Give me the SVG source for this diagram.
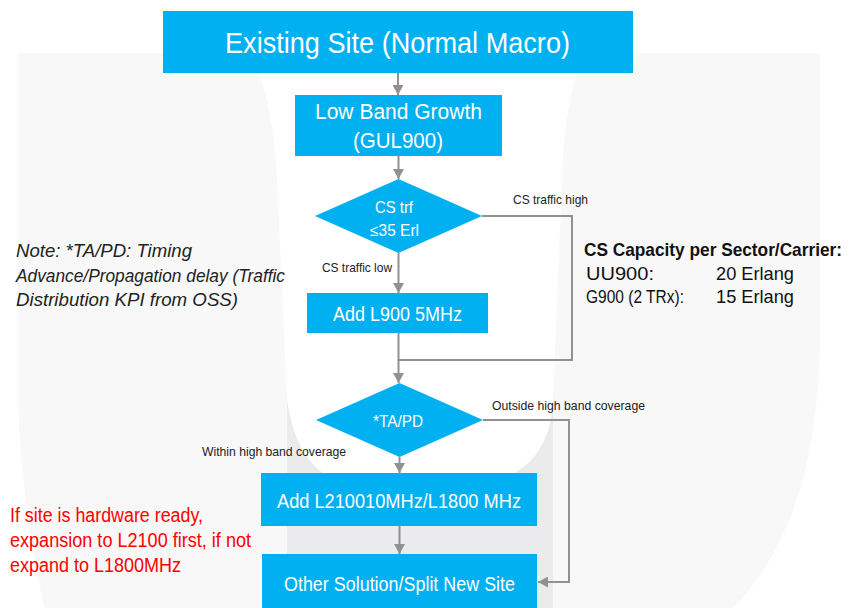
<svg xmlns="http://www.w3.org/2000/svg" width="859" height="608" viewBox="0 0 859 608">
<style>
.box{fill:#00b0f0}
.wt{fill:#ffffff;font-family:"Liberation Sans",Arial,sans-serif}
.lbl{fill:#222222;font-family:"Liberation Sans",Arial,sans-serif;font-size:13px}
.note{fill:#222222;font-family:"Liberation Sans",Arial,sans-serif;font-size:18px;font-style:italic}
.cap{fill:#111111;font-family:"Liberation Sans",Arial,sans-serif;font-size:19px}
.red{fill:#ff0000;font-family:"Liberation Sans",Arial,sans-serif;font-size:20px}
.con{fill:none;stroke:#919191;stroke-width:2}
</style>
<defs>
<marker id="ah" markerUnits="userSpaceOnUse" markerWidth="11" markerHeight="11" refX="10" refY="5.5" orient="auto">
<path d="M0,0 L10,5.5 L0,11 z" fill="#919191"/>
</marker>
</defs>
<rect width="859" height="608" fill="#ffffff"/>
<g id="watermark">
<path d="M18,53 H820 V330 C820,460 790,550 733,608 H44 C30,540 20,470 18,400 Z" fill="#f8f8f8"/>
<rect x="287" y="300" width="266" height="308" fill="#ebebee"/>
<path d="M248,53 H585 C575,70 563,120 562,180 L553,400 C550,450 530,490 420,495 C330,495 298,470 287,400 L277,180 C275,120 262,70 248,53 Z" fill="#ffffff"/>
</g>
<g id="connectors">
<path class="con" d="M398,73 V95" marker-end="url(#ah)"/>
<path class="con" d="M398.5,156 V179" marker-end="url(#ah)"/>
<path class="con" d="M398.5,253 V293" marker-end="url(#ah)"/>
<path class="con" d="M398.5,333 V383" marker-end="url(#ah)"/>
<path class="con" d="M482,216 H572 V360 H398.5"/>
<path class="con" d="M483,420 H569 V582 H538" marker-end="url(#ah)"/>
<path class="con" d="M399.5,457 V473" marker-end="url(#ah)"/>
<path class="con" d="M399.5,526 V554" marker-end="url(#ah)"/>
<text class="lbl" x="513" y="204" textLength="75" lengthAdjust="spacingAndGlyphs">CS traffic high</text>
<text class="lbl" x="322" y="272" textLength="70" lengthAdjust="spacingAndGlyphs">CS traffic low</text>
<text class="lbl" x="492" y="410" textLength="153" lengthAdjust="spacingAndGlyphs">Outside high band coverage</text>
<text class="lbl" x="202" y="456" textLength="144" lengthAdjust="spacingAndGlyphs">Within high band coverage</text>
</g>
<g id="n1">
<rect class="box" x="163" y="11" width="470" height="62"/>
<text class="wt" x="225" y="53" font-size="30" textLength="345" lengthAdjust="spacingAndGlyphs">Existing Site (Normal Macro)</text>
</g>
<g id="n2">
<rect class="box" x="295" y="95" width="207" height="61"/>
<text class="wt" x="315" y="119" font-size="22" textLength="167" lengthAdjust="spacingAndGlyphs">Low Band Growth</text>
<text class="wt" x="353" y="148" font-size="22" textLength="90" lengthAdjust="spacingAndGlyphs">(GUL900)</text>
</g>
<g id="n3">
<polygon class="box" points="315,216 398.5,179 482,216 398.5,253"/>
<text class="wt" x="375" y="213" font-size="16" textLength="38" lengthAdjust="spacingAndGlyphs">CS trf</text>
<text class="wt" x="370" y="236" font-size="16" textLength="49" lengthAdjust="spacingAndGlyphs">≤35 Erl</text>
</g>
<g id="n4">
<rect class="box" x="307" y="293" width="181" height="40"/>
<text class="wt" x="333" y="321" font-size="20" textLength="129" lengthAdjust="spacingAndGlyphs">Add L900 5MHz</text>
</g>
<g id="n5">
<polygon class="box" points="316,420 399.5,383 483,420 399.5,457"/>
<text class="wt" x="373" y="427" font-size="17" textLength="50" lengthAdjust="spacingAndGlyphs">*TA/PD</text>
</g>
<g id="n6">
<rect class="box" x="261" y="473" width="276" height="53"/>
<text class="wt" x="277" y="508" font-size="21" textLength="244" lengthAdjust="spacingAndGlyphs">Add L210010MHz/L1800  MHz</text>
</g>
<g id="n7">
<rect class="box" x="262" y="554" width="275" height="60"/>
<text class="wt" x="284" y="591" font-size="20" textLength="231" lengthAdjust="spacingAndGlyphs">Other Solution/Split  New Site</text>
</g>
<g id="note">
<text class="note" x="16" y="257" textLength="176" lengthAdjust="spacingAndGlyphs">Note: *TA/PD: Timing</text>
<text class="note" x="16" y="282" textLength="269" lengthAdjust="spacingAndGlyphs">Advance/Propagation  delay (Traffic</text>
<text class="note" x="16" y="306" textLength="222" lengthAdjust="spacingAndGlyphs">Distribution KPI from OSS)</text>
</g>
<g id="capacity">
<text class="cap" x="584" y="256" font-weight="bold" font-size="18" textLength="258" lengthAdjust="spacingAndGlyphs">CS Capacity per Sector/Carrier:</text>
<text class="cap" x="586" y="280" textLength="68" lengthAdjust="spacingAndGlyphs">UU900:</text>
<text class="cap" x="716" y="280" textLength="78" lengthAdjust="spacingAndGlyphs">20 Erlang</text>
<text class="cap" x="586" y="303" textLength="98" lengthAdjust="spacingAndGlyphs">G900 (2 TRx):</text>
<text class="cap" x="716" y="303" textLength="78" lengthAdjust="spacingAndGlyphs">15 Erlang</text>
</g>
<g id="hw-note">
<text class="red" x="10" y="522" textLength="193" lengthAdjust="spacingAndGlyphs">If site is hardware ready,</text>
<text class="red" x="10" y="547" textLength="241" lengthAdjust="spacingAndGlyphs">expansion  to L2100 first, if not</text>
<text class="red" x="10" y="572" textLength="171" lengthAdjust="spacingAndGlyphs">expand  to L1800MHz</text>
</g>
</svg>
